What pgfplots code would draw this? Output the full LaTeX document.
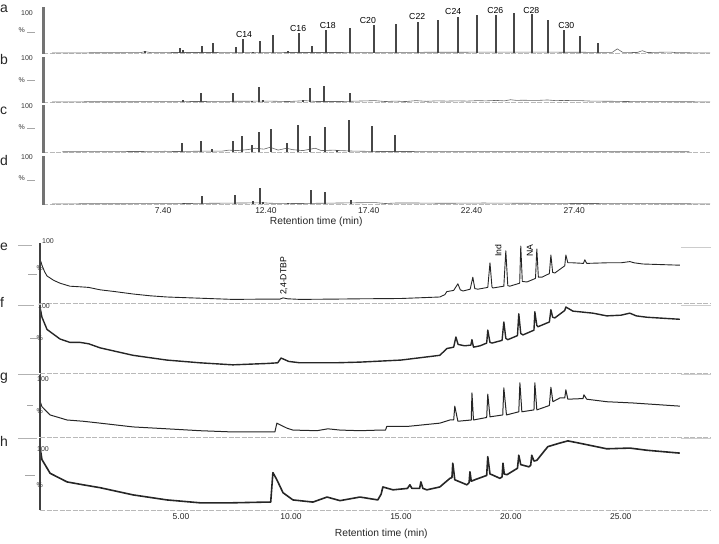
\documentclass[border=0pt]{standalone}
\usepackage{fontspec}
\setmainfont{Liberation Sans}
\usepackage{pgfplots}
\pgfplotsset{compat=1.18}

\newcommand\labf{\fontsize{7}{8}\selectfont}
\newcommand\ann{\fontsize{8.7}{10}\selectfont}
\newcommand\letfont{\fontsize{14}{16}\selectfont}
\tikzset{lab/.style={font=\labf, text=black!80}}

\pgfplotsset{
  chrom/.style={scale only axis, anchor=south west, ymin=0, ymax=100,
    axis x line*=bottom, axis y line*=left, clip=false,
    x axis line style={-, gray!55, line width=0.6pt, dash pattern=on 5pt off 1.5pt},
    y axis line style={draw=none},
    xtick=\empty, ytick=\empty, xtick style={draw=none},
    xticklabel style={font=\fontsize{8.5}{10}\selectfont, text=black!85},
  },
  top/.style={chrom, width=667pt, xmin=1.56, xmax=34.0},
  bot/.style={chrom, width=671pt, xmin=-1.41, xmax=29.1},
  pk/.style={ycomb, black!72, line width=2.2pt, mark=none},
  bl/.style={black!60, line width=0.6pt, mark=none},
  tr/.style={black!85, mark=none, line join=round},
}
\newcommand\topbar{\draw[black!55, line width=3pt] (rel axis cs:0,-0.02) -- (rel axis cs:0,1);}
\newcommand\botbar{\draw[black!75, line width=1.6pt] (rel axis cs:0,0) -- (rel axis cs:0,1);}

\begin{document}
\begin{tikzpicture}
\path[use as bounding box] (0pt,0pt) rectangle (719pt,543pt);

% panel letters
\begin{scope}[every node/.style={anchor=west, inner sep=0pt, font=\letfont, text=black!85}]
\node at (0pt,534pt) {a};
\node at (0pt,483pt) {b};
\node at (0pt,432pt) {c};
\node at (0pt,382pt) {d};
\node at (0pt,296pt) {e};
\node at (0pt,241pt) {f};
\node at (0pt,165pt) {g};
\node at (0pt,102pt) {h};
\end{scope}

% ---------- a ----------
\begin{axis}[top, at={(43pt,490pt)}, height=46pt]
\addplot[bl] coordinates {(2.0,0.3)(5,0.5)(6.3,0.8)(6.52,3)(6.8,0.8)(8,1)(9,1)(12,1.5)(14,1)(20,1.5)(25,2)(28,1.5)(29.25,1.5)(29.49,9)(29.75,1.5)(30.45,1)(30.71,5)(30.95,1)(32.07,2)(32.4,0.5)(34,0.3)};
\addplot[pk] coordinates {(6.52,4)(8.23,10)(8.37,6)(9.30,15)(9.83,21)(10.95,13)(11.29,30)(11.78,3)(12.12,26)(12.75,40)(13.48,4)(14.02,44)(14.65,15)(15.33,49)(16.50,55)(17.67,60)(18.74,64)(19.81,68)(20.78,72)(21.76,79)(22.68,83)(23.60,83)(24.48,87)(25.36,85)(26.13,72)(26.91,51)(27.69,36)(28.57,21)};
\topbar
\begin{scope}[every node/.style={anchor=base, font=\ann, inner sep=0pt}]
\node at (axis cs:11.34,34) {C14};
\node at (axis cs:13.97,47) {C16};
\node at (axis cs:15.41,54) {C18};
\node at (axis cs:17.36,64) {C20};
\node at (axis cs:19.76,72) {C22};
\node at (axis cs:21.51,83) {C24};
\node at (axis cs:23.56,86) {C26};
\node at (axis cs:25.31,86) {C28};
\node at (axis cs:27.01,54) {C30};
\end{scope}
\node[lab, anchor=east, inner sep=0pt] at ([xshift=-10pt,yshift=-6pt]rel axis cs:0,1) {100};
\node[lab, anchor=east, inner sep=0pt] at ([xshift=-18pt]rel axis cs:0,0.49) {\%};
\draw[gray!70] ([xshift=-16pt]rel axis cs:0,0.45) -- ([xshift=-8pt]rel axis cs:0,0.45);
\end{axis}

% ---------- b ----------
\begin{axis}[top, at={(43pt,441pt)}, height=45pt]
\addplot[bl] coordinates {(2,0.3)(8,0.8)(12.5,2)(13.5,1)(14.3,3)(14.9,1)(16,1)(17.7,3)(18.2,1)(18.7,2)(19.2,1)(19.7,3)(20.2,1.5)(20.7,2.5)(21.2,2)(21.7,2.5)(22.2,2)(22.7,3)(23.1,2.5)(23.6,3.5)(24.0,2.5)(24.3,5)(24.6,3.5)(24.9,4)(25.3,3.5)(25.6,3.5)(26.1,4.5)(26.5,3)(26.9,3.5)(27.3,3)(27.7,3)(28.2,2)(29.4,1.5)(30,1)(34,0.3)};
\addplot[pk] coordinates {(8.37,4)(9.25,20)(10.81,20)(11.73,3)(12.07,33)(12.27,5)(14.21,4)(14.55,31)(15.23,36)(16.50,20)};
\topbar
\node[lab, anchor=east, inner sep=0pt] at ([xshift=-10pt,yshift=-1pt]rel axis cs:0,1) {100};
\node[lab, anchor=east, inner sep=0pt] at ([xshift=-18pt]rel axis cs:0,0.49) {\%};
\draw[gray!70] ([xshift=-16pt]rel axis cs:0,0.49) -- ([xshift=-8pt]rel axis cs:0,0.49);
\end{axis}

% ---------- c ----------
\begin{axis}[top, at={(43pt,391pt)}, height=47pt]
\addplot[bl] coordinates {(2.5,0.5)(6,1)(7.5,1.5)(8.0,1)(9.8,2)(10.3,2)(10.6,4)(11.0,3)(11.5,5)(11.9,8)(12.3,6)(12.6,10)(13.0,4)(13.4,8)(13.7,5)(14.2,3)(14.8,8)(15.1,3)(15.7,4)(16.0,3)(16.6,2)(17.2,1.5)(18,1)(33,0.5)};
\addplot[pk] coordinates {(8.32,19)(9.25,23)(9.78,6)(10.81,23)(11.24,34)(11.73,15)(12.07,43)(12.66,49)(13.43,19)(13.97,57)(14.55,34)(15.28,53)(15.87,5)(16.45,68)(17.57,55)(18.69,36)};
\topbar
\node[lab, anchor=east, inner sep=0pt] at ([xshift=-10pt,yshift=-1pt]rel axis cs:0,1) {100};
\node[lab, anchor=east, inner sep=0pt] at ([xshift=-18pt]rel axis cs:0,0.53) {\%};
\draw[gray!70] ([xshift=-16pt]rel axis cs:0,0.5) -- ([xshift=-8pt]rel axis cs:0,0.5);
\end{axis}

% ---------- d ----------
\begin{axis}[top, at={(43pt,339pt)}, height=48pt,
  xtick={7.4,12.4,17.4,22.4,27.4}, xticklabels={7.40,12.40,17.40,22.40,27.40}]
\addplot[bl] coordinates {(2,0.3)(8,0.8)(12.3,2.5)(12.6,1.5)(14,1)(17.7,3)(18.2,1)(18.7,2)(19.8,2)(21,1.5)(23,2)(25,1.5)(28,1)(34,0.3)};
\addplot[pk] coordinates {(8.42,2)(9.30,17)(10.90,19)(11.78,6)(12.12,33)(12.27,5)(13.48,2)(14.60,29)(15.28,25)(16.55,8)};
\topbar
\node[lab, anchor=east, inner sep=0pt] at ([xshift=-10pt,yshift=-1pt]rel axis cs:0,1) {100};
\node[lab, anchor=east, inner sep=0pt] at ([xshift=-18pt]rel axis cs:0,0.54) {\%};
\draw[gray!70] ([xshift=-16pt]rel axis cs:0,0.5) -- ([xshift=-8pt]rel axis cs:0,0.5);
\node[font=\fontsize{10.3}{12}\selectfont, text=black!85] at ([yshift=-18pt]axis cs:14.85,0) {Retention time (min)};
\end{axis}

% ---------- e ----------
\begin{axis}[bot, at={(40pt,240pt)}, height=60pt]
\addplot[tr, line width=0.9pt] coordinates {(-1.38,70)(-1.32,63)(-1.2,52)(-1.09,45)(-0.8,38)(-0.5,33)(-0.05,28)(0.41,27)(0.8,26)(1.32,22)(2.0,19)(2.82,15)(3.6,12)(4.36,10)(5.86,8)(7.36,6)(8.91,6.5)(9.5,6.5)(9.64,8.5)(9.85,7)(10.41,6)(12,6.5)(13.14,7)(15,7.5)(16.77,10)(17.0,14)(17.09,19)(17.4,21)(17.59,32)(17.7,22)(17.82,20)(18.15,23)(18.27,43)(18.36,24)(18.5,23)(18.95,26)(19.05,67)(19.14,27)(19.18,25)(19.68,28)(19.77,87)(19.86,29)(19.95,28)(20.4,33)(20.45,95)(20.52,36)(20.73,35)(21.12,41)(21.18,90)(21.25,43)(21.41,43)(21.75,49)(21.82,80)(21.9,51)(22.0,50)(22.45,62)(22.5,80)(22.59,67)(22.82,67)(23.3,66)(23.36,72)(23.45,66)(24.36,67)(25.0,67)(25.41,69)(25.6,67)(26.0,65)(27.68,63)};
\botbar
\node[font=\ann, rotate=90, anchor=west, inner sep=0pt] at (axis cs:9.68,13) {2,4-DTBP};
\node[font=\ann, rotate=90, anchor=west, inner sep=0pt] at (axis cs:19.43,77) {Ind};
\node[font=\ann, rotate=90, anchor=west, inner sep=0pt] at (axis cs:20.86,77) {NA};
\node[lab, anchor=west, inner sep=0pt] at ([xshift=2pt,yshift=2pt]rel axis cs:0,1) {100};
\node[lab, anchor=east, inner sep=0pt] at ([xshift=3pt]rel axis cs:0,0.59) {\%};
\draw[gray!70] ([xshift=-12pt]rel axis cs:0,0.48) -- ([xshift=-3pt]rel axis cs:0,0.48);
\draw[gray!60] ([xshift=-22pt]rel axis cs:0,0.97) -- ([xshift=-8pt]rel axis cs:0,0.97);
\draw[gray!40] (rel axis cs:0.955,0.93) -- (rel axis cs:1,0.93);
\end{axis}

% ---------- f ----------
\begin{axis}[bot, at={(40pt,170pt)}, height=68pt]
\addplot[tr, line width=1.4pt] coordinates {(-1.40,95)(-1.32,82)(-1.09,64)(-0.5,50)(-0.05,45)(0.41,45)(0.8,43)(1.32,37)(2.82,26)(4.36,19)(5.86,15)(7.36,12)(8.91,14)(9.4,15)(9.55,22)(9.9,17)(10.41,15)(12,15)(13.14,16)(15,19)(16.77,26)(17.09,36)(17.4,38)(17.5,53)(17.6,42)(17.9,40)(18.18,41)(18.23,49)(18.3,38)(18.6,40)(18.9,44)(18.95,63)(19.05,45)(19.14,44)(19.6,48)(19.68,75)(19.77,51)(19.86,49)(20.3,55)(20.36,87)(20.45,58)(20.55,56)(21.05,63)(21.09,90)(21.18,70)(21.23,68)(21.75,75)(21.82,93)(21.9,82)(22.0,81)(22.45,92)(22.5,97)(22.82,91)(23.73,88)(24.36,84)(25.0,85)(25.41,88)(25.7,84)(26.18,82)(27.68,79)};
\botbar
\node[lab, anchor=west, inner sep=0pt] at ([xshift=-2pt,yshift=-1pt]rel axis cs:0,1) {100};
\node[lab, anchor=east, inner sep=0pt] at ([xshift=3pt]rel axis cs:0,0.51) {\%};
\draw[gray!70] ([xshift=-10pt]rel axis cs:0,0.51) -- ([xshift=-2pt]rel axis cs:0,0.51);
\draw[gray!60] ([xshift=-22pt]rel axis cs:0,1) -- ([xshift=-6pt]rel axis cs:0,1);
\draw[gray!40] (rel axis cs:0.955,1) -- (rel axis cs:1,1);
\end{axis}

% ---------- g ----------
\begin{axis}[bot, at={(40pt,106pt)}, height=63pt]
\addplot[tr, line width=1.0pt] coordinates {(-1.40,56)(-1.32,48)(-0.95,35)(-0.18,27)(0.55,25)(1.32,22)(2.82,16)(4.36,13)(5.86,10)(7.36,8)(8.91,8)(9.27,8)(9.36,22)(9.82,14)(10.09,11)(11.18,10)(11.68,13)(12.23,11)(13.14,10)(14.05,11)(14.3,11)(14.36,17)(15.36,17)(16.77,22)(17.23,27)(17.4,27)(17.45,49)(17.59,25)(18.2,27)(18.23,70)(18.3,27)(18.9,31)(18.95,68)(19.05,32)(19.63,35)(19.68,78)(19.8,35)(20.36,40)(20.41,86)(20.5,40)(21.05,43)(21.09,86)(21.18,43)(21.75,50)(21.82,79)(21.91,56)(22.23,62)(22.45,62)(22.5,75)(22.59,60)(23.28,61)(23.32,67)(23.45,60)(24.36,56)(25.55,54)(27.68,49)};
\botbar
\node[lab, anchor=west, inner sep=0pt] at ([xshift=-3pt,yshift=-5.5pt]rel axis cs:0,1) {100};
\node[lab, anchor=east, inner sep=0pt] at ([xshift=3pt]rel axis cs:0,0.41) {\%};
\draw[gray!70] ([xshift=-13pt]rel axis cs:0,0.51) -- ([xshift=-7pt]rel axis cs:0,0.51);
\draw[gray!60] ([xshift=-22pt]rel axis cs:0,1) -- ([xshift=0pt]rel axis cs:0,1);
\draw[gray!40] (rel axis cs:0.955,1) -- (rel axis cs:1,1);
\end{axis}

% ---------- h ----------
\begin{axis}[bot, at={(40pt,33pt)}, height=72pt,
  xtick={5,10,15,20,25}, xticklabels={5.00,10.00,15.00,20.00,25.00}]
\addplot[tr, line width=1.6pt] coordinates {(-1.40,85)(-1.32,70)(-0.95,51)(-0.18,39)(0.55,35)(1.32,31)(2.82,21)(4.36,14)(5.86,10)(7.36,10)(8.91,11)(9.08,11)(9.18,52)(9.36,42)(9.64,24)(10.09,14)(11.0,11)(11.64,18)(12.23,13)(13.14,18)(13.95,14)(14.1,22)(14.18,32)(14.64,28)(15.3,30)(15.41,35)(15.5,30)(15.85,30)(15.91,39)(16.0,30)(16.18,28)(16.77,32)(17.23,44)(17.32,45)(17.36,65)(17.45,42)(18.0,35)(18.1,38)(18.14,53)(18.2,40)(18.36,42)(18.9,48)(18.95,74)(19.05,50)(19.14,49)(19.5,44)(19.6,46)(19.64,65)(19.7,50)(19.82,49)(20.3,58)(20.36,76)(20.45,63)(20.82,60)(20.9,62)(20.95,76)(21.05,68)(21.18,69)(21.68,88)(22.23,93)(22.59,96)(23.09,93)(24.36,85)(25.41,86)(26.18,83)(27.68,79)};
\botbar
\node[lab, anchor=west, inner sep=0pt] at ([xshift=-3pt,yshift=-11pt]rel axis cs:0,1) {100};
\node[lab, anchor=east, inner sep=0pt] at ([xshift=3pt]rel axis cs:0,0.35) {\%};
\draw[gray!70] ([xshift=-15pt]rel axis cs:0,0.49) -- ([xshift=-5pt]rel axis cs:0,0.49);
\draw[gray!60] ([xshift=-22pt]rel axis cs:0,1) -- ([xshift=-3pt]rel axis cs:0,1);
\draw[gray!40] (rel axis cs:0.955,1) -- (rel axis cs:1,1);
\node[font=\fontsize{10.3}{12}\selectfont, text=black!85] at ([yshift=-24pt]axis cs:14.11,0) {Retention time (min)};
\end{axis}
\end{tikzpicture}
\end{document}
